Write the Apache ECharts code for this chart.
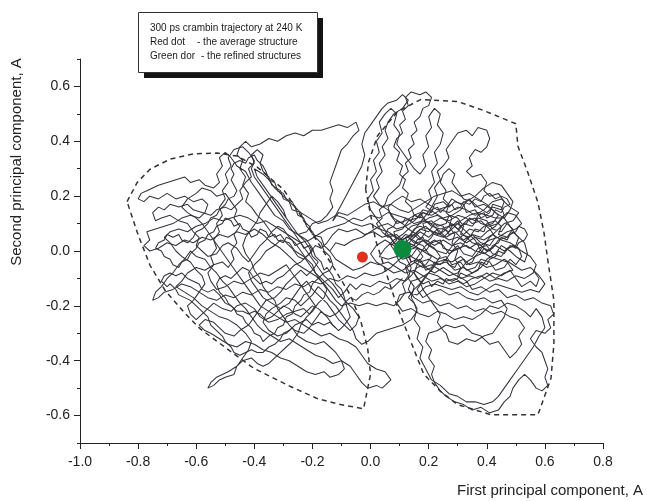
<!DOCTYPE html>
<html><head><meta charset="utf-8">
<script src="https://cdn.jsdelivr.net/npm/echarts@6/dist/echarts.min.js"></script>
<style>html,body{margin:0;padding:0;background:#fff}#c{width:647px;height:501px}</style>
</head><body><div id="c"></div>
<script>
// ---------- axis tick labels ----------
const xTickLabels = ['-1.0','-0.8','-0.6','-0.4','-0.2','0.0','0.2','0.4','0.6','0.8'];
const yTickLabels = ['-0.6','-0.4','-0.2','0.0','0.2','0.4','0.6'];
const xTitle = 'First principal component, A';
const yTitle = 'Second principal component, A';
const legendLines = ['300 ps crambin trajectory at 240 K', 'Red dot', '- the average structure', 'Green dor', '- the refined structures'];

// ---------- trajectory (first PC, second PC) ----------
const segA = [[0.11,0.00],[0.13,0.02],[0.12,0.05],[0.15,0.06],[0.17,0.04],[0.19,0.07],[0.18,0.10],[0.21,0.11],[0.23,0.09],[0.26,0.10],[0.27,0.13],[0.30,0.12],[0.32,0.09],[0.31,0.06],[0.34,0.05],[0.36,0.08],[0.39,0.07],[0.40,0.10],[0.43,0.11],[0.45,0.09],[0.44,0.06],[0.47,0.05],[0.49,0.07],[0.51,0.05],[0.50,0.02],[0.47,0.01],[0.45,-0.02],[0.42,-0.01],[0.40,0.02],[0.37,0.01],[0.35,-0.02],[0.32,-0.01],[0.30,0.02],[0.28,0.00],[0.25,0.01],[0.24,0.04],[0.21,0.03],[0.19,0.00],[0.16,0.01],[0.14,-0.02],[0.11,-0.03],[0.09,-0.01],[0.07,0.02],[0.09,0.04],[0.08,0.07],[0.11,0.08],[0.13,0.11],[0.16,0.12],[0.18,0.15],[0.21,0.14],[0.22,0.17],[0.25,0.18],[0.27,0.16],[0.29,0.18],[0.32,0.17],[0.33,0.14],[0.36,0.15],[0.38,0.12],[0.41,0.14],[0.42,0.17],[0.45,0.16],[0.46,0.13],[0.44,0.10],[0.41,0.09],[0.38,0.10],[0.36,0.12],[0.33,0.11],[0.30,0.08],[0.28,0.10],[0.25,0.07],[0.23,0.06],[0.20,0.08],[0.17,0.09],[0.15,0.08],[0.13,0.05],[0.15,0.03],[0.18,0.02],[0.20,-0.01],[0.23,-0.03],[0.26,-0.02],[0.28,-0.05],[0.31,-0.04],[0.33,-0.07],[0.36,-0.06],[0.38,-0.03],[0.41,-0.04],[0.43,-0.07],[0.46,-0.06],[0.48,-0.03],[0.50,-0.05],[0.52,-0.02],[0.51,0.01]];
const segB = [[0.51,0.01],[0.48,0.03],[0.45,0.04],[0.42,0.06],[0.39,0.04],[0.36,0.05],[0.33,0.03],[0.30,0.05],[0.27,0.04],[0.24,0.06],[0.22,0.09],[0.19,0.11],[0.17,0.14],[0.15,0.13],[0.14,0.16],[0.12,0.18],[0.13,0.21],[0.11,0.23],[0.12,0.26],[0.10,0.28],[0.11,0.31],[0.09,0.33],[0.10,0.36],[0.08,0.38],[0.09,0.41],[0.11,0.43],[0.10,0.46],[0.12,0.48],[0.11,0.51],[0.13,0.53],[0.12,0.56],[0.14,0.58],[0.17,0.57],[0.19,0.58],[0.21,0.56],[0.20,0.53],[0.18,0.52],[0.17,0.49],[0.15,0.47],[0.16,0.44],[0.14,0.42],[0.15,0.39],[0.13,0.37],[0.14,0.34],[0.12,0.32],[0.13,0.29],[0.11,0.27],[0.10,0.24],[0.08,0.22],[0.06,0.20],[0.05,0.17],[0.03,0.15],[0.04,0.12],[0.02,0.10],[0.04,0.07],[0.06,0.05],[0.09,0.06],[0.11,0.04]];
const segC = [[0.11,0.04],[0.14,0.06],[0.16,0.09],[0.19,0.13],[0.21,0.16],[0.23,0.20],[0.22,0.23],[0.24,0.26],[0.23,0.29],[0.25,0.31],[0.27,0.34],[0.26,0.37],[0.28,0.40],[0.30,0.43],[0.33,0.44],[0.35,0.42],[0.37,0.45],[0.40,0.44],[0.41,0.41],[0.40,0.38],[0.38,0.36],[0.36,0.37],[0.34,0.34],[0.35,0.31],[0.33,0.29],[0.35,0.27],[0.38,0.28],[0.40,0.25],[0.39,0.22],[0.41,0.20],[0.44,0.21],[0.46,0.18],[0.45,0.15],[0.42,0.16],[0.40,0.14],[0.37,0.16],[0.35,0.18],[0.32,0.19],[0.30,0.22],[0.28,0.25],[0.29,0.28],[0.27,0.30],[0.25,0.28],[0.24,0.25],[0.26,0.22],[0.25,0.19],[0.27,0.17],[0.26,0.14],[0.28,0.12],[0.27,0.09],[0.29,0.06],[0.28,0.03],[0.30,0.00],[0.29,-0.03]];
const segD = [[0.29,-0.03],[0.31,-0.06],[0.30,-0.09],[0.33,-0.11],[0.35,-0.14],[0.38,-0.13],[0.41,-0.15],[0.44,-0.14],[0.47,-0.17],[0.50,-0.16],[0.53,-0.18],[0.56,-0.17],[0.59,-0.19],[0.62,-0.20],[0.63,-0.23],[0.61,-0.25],[0.62,-0.28],[0.60,-0.30],[0.57,-0.29],[0.55,-0.32],[0.57,-0.35],[0.59,-0.37],[0.60,-0.40],[0.61,-0.43],[0.60,-0.46],[0.61,-0.49],[0.59,-0.51],[0.57,-0.50],[0.55,-0.47],[0.53,-0.45],[0.51,-0.47],[0.49,-0.50],[0.48,-0.53],[0.46,-0.55],[0.44,-0.58],[0.41,-0.59],[0.38,-0.57],[0.35,-0.58],[0.32,-0.56],[0.29,-0.55],[0.26,-0.53],[0.24,-0.51],[0.22,-0.48],[0.21,-0.45],[0.22,-0.42],[0.20,-0.39],[0.21,-0.36],[0.19,-0.33],[0.20,-0.30],[0.23,-0.29],[0.26,-0.27],[0.29,-0.28],[0.32,-0.27],[0.35,-0.30],[0.38,-0.31],[0.41,-0.34],[0.44,-0.33],[0.46,-0.36],[0.48,-0.39],[0.50,-0.37],[0.52,-0.34],[0.51,-0.31],[0.53,-0.28],[0.51,-0.25],[0.48,-0.24],[0.45,-0.22],[0.42,-0.23],[0.39,-0.21],[0.36,-0.22],[0.33,-0.20],[0.30,-0.21],[0.27,-0.19],[0.24,-0.20],[0.21,-0.18],[0.18,-0.19],[0.15,-0.17],[0.13,-0.14],[0.14,-0.11],[0.17,-0.10],[0.20,-0.08],[0.23,-0.09],[0.26,-0.11],[0.29,-0.10],[0.32,-0.12],[0.35,-0.10],[0.38,-0.09],[0.41,-0.11],[0.44,-0.10],[0.47,-0.11],[0.50,-0.09],[0.53,-0.10],[0.56,-0.08],[0.57,-0.05],[0.55,-0.02],[0.52,0.00]];
const segE = [[0.52,0.00],[0.49,0.02],[0.46,0.00],[0.43,0.02],[0.40,0.00],[0.37,0.03],[0.34,0.01],[0.31,0.03],[0.28,0.02],[0.25,0.04],[0.22,0.02],[0.19,0.04],[0.16,0.03],[0.13,0.05],[0.10,0.04],[0.07,0.06],[0.04,0.05],[0.01,0.07],[-0.02,0.06],[-0.05,0.08],[-0.08,0.07],[-0.11,0.08],[-0.13,0.06],[-0.15,0.03],[-0.17,0.01],[-0.19,0.02],[-0.21,-0.01],[-0.23,-0.03],[-0.25,-0.02]];
const segF = [[-0.25,-0.02],[-0.27,0.01],[-0.29,0.03],[-0.31,0.06],[-0.33,0.05],[-0.35,0.08],[-0.37,0.11],[-0.39,0.13],[-0.41,0.16],[-0.43,0.18],[-0.42,0.21],[-0.44,0.24],[-0.43,0.27],[-0.45,0.30],[-0.44,0.33],[-0.46,0.35],[-0.45,0.38],[-0.43,0.40],[-0.41,0.38],[-0.38,0.39],[-0.35,0.41],[-0.32,0.40],[-0.29,0.42],[-0.26,0.43],[-0.23,0.42],[-0.20,0.44],[-0.17,0.44],[-0.14,0.45],[-0.11,0.46],[-0.08,0.45],[-0.05,0.47],[-0.04,0.44],[-0.06,0.42],[-0.08,0.39],[-0.10,0.37],[-0.11,0.34],[-0.12,0.31],[-0.13,0.28],[-0.14,0.25],[-0.13,0.22],[-0.14,0.19],[-0.13,0.16],[-0.15,0.13],[-0.17,0.11],[-0.20,0.10],[-0.22,0.07],[-0.25,0.06],[-0.28,0.08],[-0.30,0.11],[-0.33,0.13],[-0.35,0.16],[-0.37,0.19],[-0.39,0.22],[-0.41,0.25],[-0.43,0.29],[-0.46,0.31],[-0.48,0.34],[-0.50,0.36],[-0.52,0.34],[-0.51,0.31],[-0.53,0.28],[-0.52,0.25],[-0.54,0.23],[-0.57,0.24],[-0.59,0.26],[-0.62,0.25],[-0.64,0.27],[-0.67,0.26],[-0.70,0.25],[-0.73,0.24],[-0.75,0.23],[-0.77,0.22],[-0.79,0.21],[-0.80,0.19],[-0.78,0.18],[-0.76,0.20],[-0.73,0.19],[-0.70,0.21],[-0.67,0.19],[-0.64,0.20],[-0.61,0.18],[-0.58,0.19],[-0.56,0.17],[-0.57,0.14],[-0.59,0.12],[-0.62,0.13],[-0.65,0.12],[-0.68,0.10],[-0.71,0.09],[-0.74,0.08],[-0.77,0.07],[-0.76,0.04],[-0.78,0.02],[-0.76,0.00],[-0.73,0.01],[-0.70,0.03],[-0.67,0.02],[-0.64,0.04],[-0.61,0.03],[-0.58,0.05],[-0.55,0.04],[-0.52,0.06],[-0.49,0.05],[-0.46,0.07],[-0.43,0.06],[-0.40,0.08],[-0.37,0.06],[-0.34,0.03],[-0.31,0.01],[-0.28,-0.02],[-0.25,-0.05],[-0.22,-0.07],[-0.19,-0.09],[-0.16,-0.12],[-0.14,-0.15],[-0.12,-0.18],[-0.10,-0.20],[-0.07,-0.19],[-0.04,-0.20],[-0.01,-0.19],[0.02,-0.20],[0.05,-0.19],[0.08,-0.20],[0.10,-0.18],[0.12,-0.15],[0.11,-0.12],[0.13,-0.09],[0.12,-0.06],[0.14,-0.04],[0.13,-0.01]];
const segG = [[0.13,-0.01],[0.10,-0.03],[0.07,-0.06],[0.04,-0.08],[0.01,-0.09],[-0.02,-0.08],[-0.05,-0.10],[-0.08,-0.09],[-0.11,-0.11],[-0.14,-0.10],[-0.17,-0.12],[-0.20,-0.11],[-0.23,-0.13],[-0.26,-0.12],[-0.29,-0.14],[-0.32,-0.13],[-0.35,-0.15],[-0.38,-0.14],[-0.41,-0.16],[-0.44,-0.15],[-0.47,-0.17],[-0.50,-0.16],[-0.53,-0.18],[-0.56,-0.17],[-0.59,-0.15],[-0.62,-0.13],[-0.65,-0.12],[-0.68,-0.14],[-0.71,-0.15],[-0.73,-0.17],[-0.75,-0.18],[-0.74,-0.15],[-0.72,-0.13],[-0.70,-0.10],[-0.68,-0.08],[-0.66,-0.05],[-0.64,-0.03],[-0.62,0.00],[-0.60,-0.02],[-0.57,-0.03],[-0.55,-0.06],[-0.53,-0.08],[-0.51,-0.11],[-0.49,-0.13],[-0.47,-0.16],[-0.45,-0.19],[-0.43,-0.21],[-0.41,-0.24],[-0.39,-0.27],[-0.37,-0.29],[-0.34,-0.31],[-0.31,-0.33],[-0.28,-0.32],[-0.25,-0.34],[-0.22,-0.36],[-0.19,-0.38],[-0.16,-0.39],[-0.13,-0.41],[-0.10,-0.40],[-0.07,-0.42],[-0.05,-0.45],[-0.03,-0.48],[-0.01,-0.50],[0.02,-0.49],[0.04,-0.50],[0.07,-0.47],[0.05,-0.44],[0.02,-0.43],[-0.01,-0.41],[-0.03,-0.38],[-0.05,-0.35],[-0.08,-0.33],[-0.11,-0.32],[-0.14,-0.30],[-0.17,-0.31],[-0.20,-0.29],[-0.23,-0.27],[-0.26,-0.25],[-0.29,-0.26],[-0.32,-0.24],[-0.35,-0.22],[-0.38,-0.20],[-0.40,-0.17],[-0.42,-0.14],[-0.44,-0.11],[-0.46,-0.08],[-0.48,-0.05],[-0.50,-0.02],[-0.52,0.01],[-0.54,0.04],[-0.56,0.07],[-0.58,0.10],[-0.60,0.12],[-0.63,0.14],[-0.65,0.16]];
const segH = [[-0.65,0.16],[-0.63,0.19],[-0.60,0.21],[-0.58,0.23],[-0.55,0.22],[-0.53,0.20],[-0.50,0.21],[-0.48,0.18],[-0.46,0.15],[-0.47,0.12],[-0.45,0.09],[-0.47,0.06],[-0.46,0.03],[-0.48,0.00],[-0.47,-0.03],[-0.49,-0.06],[-0.51,-0.04],[-0.54,-0.05],[-0.57,-0.07],[-0.60,-0.06],[-0.63,-0.08],[-0.65,-0.11],[-0.67,-0.13],[-0.64,-0.15],[-0.61,-0.17],[-0.58,-0.20],[-0.55,-0.22],[-0.52,-0.24],[-0.49,-0.25],[-0.46,-0.27],[-0.43,-0.30],[-0.41,-0.33],[-0.42,-0.36],[-0.44,-0.39],[-0.46,-0.42],[-0.49,-0.44],[-0.51,-0.45],[-0.53,-0.46],[-0.55,-0.48],[-0.56,-0.50],[-0.54,-0.49],[-0.52,-0.47],[-0.50,-0.46],[-0.47,-0.45],[-0.46,-0.42],[-0.44,-0.40],[-0.41,-0.39],[-0.39,-0.41],[-0.37,-0.42],[-0.35,-0.41],[-0.33,-0.39],[-0.31,-0.37],[-0.29,-0.35],[-0.27,-0.33],[-0.25,-0.30],[-0.24,-0.27],[-0.22,-0.24],[-0.20,-0.22],[-0.18,-0.19],[-0.16,-0.17],[-0.15,-0.14],[-0.17,-0.11],[-0.19,-0.08],[-0.21,-0.05],[-0.23,-0.02],[-0.26,0.00],[-0.28,0.03],[-0.31,0.04],[-0.33,0.02],[-0.36,0.00],[-0.38,-0.03],[-0.40,-0.05],[-0.42,-0.08],[-0.41,-0.11],[-0.39,-0.14],[-0.37,-0.17],[-0.34,-0.19],[-0.31,-0.21],[-0.28,-0.19],[-0.26,-0.16],[-0.24,-0.13],[-0.22,-0.11],[-0.20,-0.14],[-0.18,-0.16],[-0.15,-0.19],[-0.13,-0.22],[-0.11,-0.25],[-0.09,-0.27],[-0.07,-0.29],[-0.05,-0.27],[-0.04,-0.24],[-0.06,-0.21]];
const segI = [[-0.06,-0.21],[-0.09,-0.18],[-0.11,-0.15],[-0.13,-0.12],[-0.16,-0.09],[-0.18,-0.06],[-0.20,-0.03],[-0.22,0.00],[-0.24,0.03],[-0.26,0.06],[-0.28,0.09],[-0.30,0.12],[-0.32,0.15],[-0.34,0.18],[-0.36,0.21],[-0.38,0.24],[-0.40,0.27],[-0.41,0.30],[-0.40,0.33],[-0.42,0.36],[-0.44,0.38],[-0.47,0.37],[-0.49,0.34],[-0.48,0.31],[-0.50,0.28],[-0.49,0.25],[-0.51,0.22],[-0.50,0.19],[-0.52,0.16],[-0.51,0.13],[-0.53,0.10],[-0.52,0.07],[-0.54,0.04],[-0.53,0.01],[-0.55,-0.02],[-0.54,-0.05],[-0.56,-0.08],[-0.55,-0.11],[-0.53,-0.14],[-0.50,-0.13],[-0.47,-0.11],[-0.44,-0.12],[-0.41,-0.10],[-0.38,-0.08],[-0.35,-0.09],[-0.32,-0.07],[-0.29,-0.05],[-0.27,-0.08],[-0.25,-0.11],[-0.23,-0.14],[-0.21,-0.17],[-0.19,-0.20],[-0.21,-0.23],[-0.23,-0.21],[-0.26,-0.22],[-0.29,-0.23],[-0.32,-0.25],[-0.35,-0.26],[-0.38,-0.24],[-0.40,-0.21],[-0.43,-0.19],[-0.46,-0.20],[-0.48,-0.22],[-0.51,-0.21],[-0.54,-0.19],[-0.56,-0.21],[-0.58,-0.23],[-0.60,-0.25],[-0.62,-0.23],[-0.63,-0.20],[-0.61,-0.18]];
const segJ = [[-0.61,-0.18],[-0.59,-0.15],[-0.57,-0.12],[-0.58,-0.09],[-0.60,-0.07],[-0.62,-0.04],[-0.65,-0.02],[-0.67,0.00],[-0.69,0.03],[-0.71,0.05],[-0.69,0.07],[-0.66,0.08],[-0.63,0.07],[-0.60,0.09],[-0.57,0.10],[-0.54,0.12],[-0.51,0.11],[-0.48,0.12],[-0.45,0.13],[-0.42,0.12],[-0.39,0.10],[-0.36,0.11],[-0.33,0.09],[-0.30,0.07],[-0.27,0.05],[-0.24,0.03],[-0.21,0.04],[-0.18,0.06],[-0.15,0.08],[-0.12,0.09],[-0.09,0.10],[-0.06,0.12],[-0.03,0.11],[0.00,0.13],[0.03,0.12],[0.06,0.14],[0.09,0.13],[0.12,0.12],[0.15,0.10],[0.18,0.11],[0.21,0.10],[0.24,0.12],[0.27,0.11],[0.30,0.13],[0.33,0.12],[0.35,0.10],[0.38,0.11],[0.41,0.08],[0.43,0.05],[0.41,0.02],[0.38,0.03],[0.35,0.06],[0.32,0.04],[0.29,0.07],[0.26,0.05],[0.23,0.08],[0.20,0.05],[0.17,0.07],[0.14,0.04],[0.12,0.01],[0.14,-0.02],[0.17,-0.04],[0.20,-0.03],[0.23,-0.05],[0.26,-0.04],[0.29,-0.07],[0.32,-0.06],[0.35,-0.08],[0.38,-0.06],[0.40,-0.03],[0.43,-0.01],[0.45,0.02],[0.48,0.00],[0.50,-0.02],[0.53,-0.04],[0.54,-0.01],[0.53,0.03],[0.50,0.06],[0.48,0.09],[0.46,0.12],[0.43,0.14],[0.40,0.17],[0.37,0.19],[0.34,0.21],[0.31,0.20],[0.28,0.22],[0.25,0.21],[0.22,0.20],[0.19,0.18],[0.16,0.16],[0.13,0.14],[0.10,0.15],[0.07,0.17],[0.04,0.16],[0.01,0.18],[-0.02,0.17],[-0.05,0.15],[-0.08,0.13],[-0.11,0.14],[-0.13,0.11]];
const segK = [[-0.13,0.11],[-0.11,0.15],[-0.09,0.19],[-0.07,0.23],[-0.05,0.27],[-0.03,0.31],[-0.02,0.35],[-0.03,0.39],[-0.02,0.43],[0.00,0.46],[0.02,0.49],[0.04,0.52],[0.06,0.54],[0.09,0.55],[0.11,0.57],[0.13,0.55],[0.11,0.52],[0.08,0.50],[0.06,0.47],[0.05,0.44],[0.06,0.41],[0.04,0.38],[0.05,0.35],[0.03,0.32],[0.04,0.29],[0.02,0.26],[0.03,0.23],[0.01,0.20],[0.03,0.17],[0.06,0.15],[0.08,0.12],[0.11,0.10],[0.13,0.08],[0.16,0.06],[0.19,0.03],[0.22,0.01],[0.24,-0.02],[0.22,-0.05],[0.20,-0.08],[0.18,-0.11],[0.16,-0.14],[0.18,-0.17],[0.21,-0.15],[0.24,-0.14],[0.27,-0.16],[0.30,-0.15],[0.33,-0.17],[0.36,-0.18],[0.39,-0.17],[0.42,-0.19],[0.45,-0.18],[0.47,-0.21],[0.46,-0.24],[0.44,-0.27],[0.42,-0.30],[0.39,-0.31],[0.36,-0.33],[0.33,-0.32],[0.30,-0.34],[0.27,-0.33],[0.26,-0.30],[0.25,-0.29],[0.23,-0.26],[0.24,-0.23],[0.22,-0.20],[0.20,-0.17],[0.18,-0.14],[0.17,-0.11],[0.15,-0.08],[0.16,-0.05],[0.18,-0.02],[0.16,0.01],[0.13,0.02],[0.11,0.00]];
const segL = [[0.11,0.00],[0.09,0.03],[0.12,0.06],[0.15,0.05],[0.17,0.08],[0.20,0.07],[0.22,0.10],[0.25,0.09],[0.27,0.06],[0.30,0.07],[0.32,0.10],[0.35,0.09],[0.37,0.12],[0.40,0.11],[0.42,0.08],[0.45,0.07],[0.47,0.10],[0.49,0.08],[0.47,0.05],[0.44,0.04],[0.42,0.01],[0.39,-0.01],[0.36,0.00],[0.33,0.02],[0.30,0.01],[0.27,-0.01],[0.25,0.02],[0.22,0.04],[0.19,0.02],[0.17,-0.01],[0.15,-0.04],[0.18,-0.06],[0.21,-0.05],[0.24,-0.07],[0.27,-0.09],[0.30,-0.08],[0.33,-0.04],[0.36,-0.02],[0.39,0.02],[0.41,0.05],[0.44,0.08],[0.46,0.10],[0.49,0.11],[0.51,0.14],[0.48,0.16],[0.45,0.19],[0.42,0.18],[0.39,0.15],[0.36,0.13],[0.33,0.15],[0.30,0.16],[0.27,0.14],[0.24,0.15],[0.21,0.13],[0.18,0.14],[0.15,0.11],[0.12,0.09],[0.09,0.08],[0.06,0.10],[0.03,0.09],[0.00,0.07],[-0.03,0.05],[-0.06,0.04],[-0.09,0.02],[-0.12,0.03],[-0.14,0.00],[-0.12,-0.03],[-0.09,-0.05],[-0.06,-0.07],[-0.03,-0.06],[0.00,-0.04],[0.03,-0.05],[0.06,-0.04],[0.09,-0.06],[0.12,-0.08],[0.15,-0.07],[0.18,-0.09],[0.21,-0.11],[0.24,-0.10],[0.27,-0.12],[0.30,-0.11],[0.33,-0.13],[0.36,-0.12],[0.39,-0.10],[0.42,-0.08],[0.45,-0.09],[0.48,-0.07],[0.50,-0.10],[0.52,-0.13],[0.55,-0.11],[0.57,-0.13],[0.58,-0.10],[0.56,-0.07]];
const segM = [[-0.14,0.00],[-0.16,0.02],[-0.17,0.05],[-0.20,0.06],[-0.21,0.09],[-0.23,0.11],[-0.24,0.14],[-0.27,0.15],[-0.28,0.18],[-0.30,0.19],[-0.31,0.22],[-0.34,0.24],[-0.35,0.27],[-0.37,0.29],[-0.38,0.32],[-0.37,0.35],[-0.39,0.37],[-0.41,0.35],[-0.40,0.32],[-0.42,0.30],[-0.41,0.27],[-0.43,0.25],[-0.45,0.22],[-0.44,0.19],[-0.46,0.17],[-0.48,0.15],[-0.50,0.16],[-0.53,0.15],[-0.55,0.13],[-0.58,0.14],[-0.61,0.15],[-0.63,0.17],[-0.66,0.16],[-0.69,0.17],[-0.71,0.15],[-0.73,0.16],[-0.75,0.14],[-0.74,0.11],[-0.72,0.12],[-0.69,0.13],[-0.66,0.11],[-0.63,0.10],[-0.61,0.07],[-0.59,0.05],[-0.60,0.02],[-0.58,0.00],[-0.56,-0.02],[-0.53,-0.01],[-0.51,0.02],[-0.49,0.03],[-0.46,0.01],[-0.44,-0.02],[-0.42,-0.04],[-0.40,-0.01],[-0.38,0.02],[-0.36,0.04],[-0.34,0.07],[-0.32,0.09],[-0.30,0.08],[-0.28,0.05],[-0.26,0.03],[-0.24,0.00],[-0.22,-0.03],[-0.20,-0.05],[-0.19,-0.08],[-0.17,-0.10],[-0.15,-0.12],[-0.13,-0.14],[-0.11,-0.17],[-0.09,-0.15],[-0.07,-0.12],[-0.05,-0.14],[-0.03,-0.12],[0.00,-0.13],[0.03,-0.11],[0.06,-0.12],[0.09,-0.10],[0.12,-0.11],[0.14,-0.09],[0.16,-0.06],[0.19,-0.05],[0.21,-0.02]];
const segN = [[0.21,-0.02],[0.18,0.00],[0.15,0.02],[0.12,0.03],[0.09,0.05],[0.06,0.07],[0.03,0.08],[0.00,0.10],[-0.03,0.09],[-0.06,0.10],[-0.09,0.12],[-0.12,0.13],[-0.15,0.11],[-0.18,0.10],[-0.21,0.12],[-0.24,0.14],[-0.27,0.17],[-0.30,0.20],[-0.33,0.23],[-0.35,0.26],[-0.37,0.28],[-0.40,0.30],[-0.39,0.27],[-0.37,0.24],[-0.35,0.21],[-0.33,0.18],[-0.31,0.15],[-0.29,0.12],[-0.27,0.09],[-0.25,0.06],[-0.22,0.04],[-0.20,0.01],[-0.19,-0.02],[-0.17,-0.04],[-0.16,-0.07],[-0.15,-0.06],[-0.13,-0.09],[-0.12,-0.12],[-0.10,-0.14],[-0.09,-0.17],[-0.08,-0.21],[-0.07,-0.24],[-0.09,-0.27],[-0.11,-0.29],[-0.13,-0.27],[-0.15,-0.24],[-0.17,-0.22],[-0.19,-0.25],[-0.21,-0.28],[-0.23,-0.30],[-0.26,-0.29],[-0.28,-0.27],[-0.30,-0.24],[-0.32,-0.21],[-0.33,-0.18],[-0.35,-0.16],[-0.37,-0.13],[-0.38,-0.10],[-0.40,-0.07],[-0.41,-0.04],[-0.43,-0.01],[-0.44,0.02],[-0.43,0.05],[-0.41,0.08],[-0.39,0.11],[-0.38,0.14],[-0.36,0.17],[-0.34,0.20],[-0.32,0.18],[-0.30,0.15],[-0.29,0.12],[-0.27,0.09],[-0.25,0.06],[-0.23,0.04],[-0.21,0.01],[-0.20,-0.02],[-0.18,-0.04]];
const segR = [[-0.18,-0.04],[-0.20,-0.07],[-0.22,-0.09],[-0.24,-0.07],[-0.27,-0.10],[-0.29,-0.12],[-0.31,-0.15],[-0.33,-0.17],[-0.36,-0.18],[-0.38,-0.21],[-0.40,-0.24],[-0.42,-0.27],[-0.45,-0.29],[-0.47,-0.31],[-0.50,-0.30],[-0.52,-0.28],[-0.54,-0.26],[-0.57,-0.25],[-0.59,-0.27],[-0.57,-0.29],[-0.55,-0.30],[-0.52,-0.32],[-0.49,-0.34],[-0.46,-0.35],[-0.43,-0.33],[-0.40,-0.34],[-0.37,-0.36],[-0.34,-0.37],[-0.31,-0.39],[-0.28,-0.40],[-0.25,-0.42],[-0.22,-0.44],[-0.19,-0.45],[-0.16,-0.44],[-0.14,-0.46],[-0.11,-0.45],[-0.09,-0.43],[-0.10,-0.40],[-0.12,-0.37],[-0.14,-0.35],[-0.16,-0.33],[-0.19,-0.34],[-0.22,-0.33],[-0.25,-0.31],[-0.27,-0.28],[-0.29,-0.30],[-0.32,-0.31],[-0.35,-0.29],[-0.37,-0.26],[-0.36,-0.23],[-0.34,-0.21],[-0.31,-0.19],[-0.29,-0.17],[-0.26,-0.18],[-0.24,-0.20],[-0.22,-0.18],[-0.20,-0.16],[-0.18,-0.13],[-0.16,-0.15],[-0.14,-0.18],[-0.12,-0.20],[-0.10,-0.23],[-0.08,-0.26],[-0.06,-0.29],[-0.05,-0.32],[-0.03,-0.34],[-0.01,-0.33],[0.02,-0.30],[0.05,-0.29],[0.08,-0.28],[0.11,-0.27],[0.14,-0.25],[0.16,-0.22],[0.15,-0.19],[0.13,-0.17]];
const segO = [[0.13,-0.17],[0.15,-0.14],[0.17,-0.12],[0.19,-0.09],[0.21,-0.07],[0.23,-0.04],[0.26,-0.03],[0.28,0.00],[0.31,0.01],[0.33,0.04],[0.35,0.06],[0.38,0.05],[0.40,0.07],[0.43,0.09],[0.45,0.12],[0.47,0.14],[0.50,0.13],[0.52,0.10],[0.50,0.08],[0.47,0.07],[0.44,0.05],[0.41,0.04],[0.38,0.02],[0.35,0.03],[0.32,0.06],[0.29,0.09],[0.26,0.11],[0.23,0.13],[0.20,0.12],[0.17,0.10],[0.14,0.09],[0.11,0.06],[0.08,0.04],[0.05,0.01],[0.03,-0.02],[0.06,-0.03],[0.09,-0.02],[0.12,0.00],[0.15,0.01],[0.18,0.04],[0.20,0.02],[0.23,0.00],[0.26,-0.01],[0.29,0.03],[0.31,0.05],[0.34,0.08],[0.37,0.07],[0.39,0.09],[0.42,0.10],[0.44,0.13],[0.42,0.15],[0.39,0.17],[0.36,0.16],[0.34,0.19],[0.31,0.17],[0.28,0.19],[0.26,0.16],[0.23,0.15],[0.20,0.17],[0.17,0.19],[0.14,0.18],[0.11,0.20],[0.08,0.18],[0.06,0.16],[0.07,0.13],[0.09,0.10],[0.12,0.11],[0.15,0.13],[0.18,0.12],[0.21,0.09],[0.24,0.08],[0.27,0.09],[0.30,0.10],[0.33,0.07],[0.36,0.04],[0.38,0.00],[0.41,-0.02],[0.44,-0.03],[0.47,-0.04],[0.49,-0.07],[0.46,-0.08],[0.43,-0.10],[0.40,-0.08],[0.37,-0.10],[0.34,-0.09],[0.31,-0.10],[0.28,-0.08],[0.25,-0.06],[0.22,-0.08],[0.19,-0.06],[0.17,-0.03],[0.14,-0.05],[0.11,-0.07],[0.08,-0.08],[0.05,-0.06],[0.02,-0.04],[0.00,-0.01],[0.02,0.02],[0.05,0.04],[0.08,0.02],[0.10,0.00]];
const segP = [[0.10,0.00],[0.08,0.03],[0.06,0.06],[0.04,0.09],[0.02,0.12],[0.00,0.15],[-0.01,0.19],[0.01,0.22],[0.00,0.26],[0.02,0.29],[0.01,0.33],[0.03,0.36],[0.02,0.40],[0.04,0.43],[0.03,0.47],[0.05,0.50],[0.07,0.52],[0.09,0.50],[0.08,0.46],[0.10,0.43],[0.09,0.39],[0.11,0.36],[0.13,0.33],[0.15,0.30],[0.17,0.28],[0.19,0.31],[0.18,0.35],[0.20,0.38],[0.19,0.42],[0.21,0.45],[0.20,0.49],[0.22,0.52],[0.24,0.50],[0.23,0.46],[0.25,0.43],[0.24,0.39],[0.22,0.36],[0.23,0.32],[0.21,0.29],[0.22,0.25],[0.20,0.22],[0.21,0.19],[0.19,0.16],[0.22,0.14],[0.25,0.12],[0.28,0.13],[0.31,0.15],[0.33,0.18],[0.36,0.20],[0.39,0.23],[0.42,0.25],[0.45,0.24],[0.47,0.21],[0.49,0.18],[0.48,0.15],[0.46,0.12],[0.43,0.12],[0.40,0.13],[0.37,0.14],[0.34,0.13],[0.31,0.11],[0.28,0.08],[0.25,0.05],[0.22,0.06],[0.19,0.09],[0.16,0.07],[0.13,0.04],[0.11,0.02]];
const segQ = [[0.11,0.02],[0.12,-0.02],[0.14,-0.06],[0.13,-0.10],[0.15,-0.13],[0.14,-0.17],[0.16,-0.21],[0.15,-0.25],[0.17,-0.28],[0.16,-0.32],[0.18,-0.35],[0.17,-0.39],[0.19,-0.43],[0.21,-0.47],[0.24,-0.49],[0.27,-0.52],[0.30,-0.53],[0.33,-0.55],[0.36,-0.55],[0.39,-0.56],[0.42,-0.55],[0.44,-0.53],[0.46,-0.50],[0.48,-0.47],[0.50,-0.44],[0.52,-0.41],[0.54,-0.38],[0.56,-0.35],[0.58,-0.31],[0.60,-0.28],[0.59,-0.24],[0.57,-0.21],[0.55,-0.24],[0.53,-0.22],[0.50,-0.20],[0.47,-0.19],[0.44,-0.21],[0.41,-0.20],[0.38,-0.23],[0.35,-0.25],[0.32,-0.24],[0.29,-0.25],[0.26,-0.23],[0.23,-0.22],[0.20,-0.24],[0.17,-0.23],[0.14,-0.21],[0.11,-0.22],[0.09,-0.19],[0.10,-0.16],[0.13,-0.15],[0.16,-0.16],[0.19,-0.13],[0.22,-0.12],[0.25,-0.13],[0.28,-0.14],[0.31,-0.13],[0.34,-0.15],[0.37,-0.16],[0.40,-0.14],[0.43,-0.12],[0.46,-0.13],[0.49,-0.14],[0.52,-0.15],[0.55,-0.14],[0.58,-0.15],[0.60,-0.12],[0.58,-0.09],[0.55,-0.06],[0.52,-0.07],[0.49,-0.05],[0.46,-0.03],[0.43,-0.05],[0.40,-0.06],[0.37,-0.04],[0.34,-0.05],[0.31,-0.02],[0.28,-0.04],[0.25,-0.03]];
const segS = [[0.10,0.00],[0.12,0.01],[0.13,0.03],[0.15,0.02],[0.16,0.04],[0.18,0.05],[0.19,0.03],[0.21,0.05],[0.22,0.07],[0.24,0.06],[0.25,0.08],[0.27,0.07],[0.28,0.09],[0.30,0.11],[0.31,0.09],[0.33,0.10],[0.34,0.12],[0.36,0.11],[0.37,0.13],[0.39,0.14],[0.40,0.12],[0.42,0.13],[0.43,0.15],[0.45,0.14],[0.46,0.16],[0.48,0.17],[0.47,0.19],[0.45,0.20],[0.43,0.19],[0.41,0.21],[0.39,0.20],[0.38,0.18],[0.36,0.19],[0.34,0.17],[0.32,0.18],[0.31,0.16],[0.29,0.15],[0.28,0.17],[0.26,0.16],[0.24,0.14],[0.23,0.16],[0.21,0.15],[0.20,0.13],[0.18,0.14],[0.17,0.12],[0.15,0.13],[0.14,0.11],[0.12,0.12],[0.11,0.10],[0.09,0.11],[0.08,0.09],[0.06,0.08],[0.05,0.06],[0.07,0.05],[0.08,0.03],[0.10,0.02],[0.11,-0.01],[0.13,-0.02],[0.14,-0.04],[0.16,-0.03],[0.18,-0.05],[0.19,-0.07],[0.21,-0.06],[0.22,-0.04],[0.24,-0.05],[0.26,-0.03],[0.27,-0.05],[0.29,-0.06],[0.30,-0.04],[0.32,-0.03],[0.33,-0.05],[0.35,-0.04],[0.36,-0.02],[0.38,-0.01],[0.39,0.01],[0.41,0.00],[0.42,0.02],[0.44,0.03],[0.45,0.05],[0.47,0.04],[0.48,0.06],[0.50,0.07],[0.51,0.09],[0.53,0.08],[0.54,0.06],[0.53,0.04],[0.51,0.03],[0.50,0.01],[0.48,0.02],[0.46,-0.01],[0.44,0.00],[0.43,-0.02],[0.41,-0.03],[0.40,-0.05],[0.38,-0.04],[0.37,-0.07],[0.35,-0.08],[0.33,-0.09],[0.31,-0.08],[0.30,-0.10],[0.28,-0.11],[0.26,-0.10],[0.25,-0.12],[0.23,-0.11],[0.21,-0.13],[0.20,-0.11],[0.18,-0.12],[0.16,-0.10],[0.15,-0.08],[0.13,-0.07],[0.12,-0.05],[0.10,-0.04],[0.09,-0.02],[0.10,0.00]];
const segT = [[-0.20,0.00],[-0.21,0.02],[-0.23,0.01],[-0.24,0.03],[-0.26,0.02],[-0.27,0.04],[-0.29,0.05],[-0.30,0.03],[-0.32,0.04],[-0.33,0.06],[-0.35,0.05],[-0.36,0.07],[-0.38,0.08],[-0.39,0.06],[-0.41,0.05],[-0.42,0.07],[-0.44,0.08],[-0.45,0.10],[-0.47,0.09],[-0.48,0.11],[-0.50,0.12],[-0.51,0.10],[-0.53,0.09],[-0.54,0.07],[-0.56,0.06],[-0.57,0.04],[-0.59,0.03],[-0.60,0.01],[-0.62,-0.01],[-0.63,-0.03],[-0.65,-0.04],[-0.66,-0.06],[-0.68,-0.05],[-0.69,-0.03],[-0.71,-0.02],[-0.72,0.00],[-0.74,0.01],[-0.73,0.03],[-0.71,0.04],[-0.70,0.06],[-0.68,0.05],[-0.66,0.06],[-0.65,0.04],[-0.63,0.03],[-0.61,0.05],[-0.60,0.07],[-0.58,0.08],[-0.56,0.10],[-0.55,0.12],[-0.53,0.13],[-0.52,0.15],[-0.50,0.17],[-0.49,0.19],[-0.47,0.20],[-0.46,0.22],[-0.47,0.24],[-0.48,0.26],[-0.47,0.28],[-0.48,0.30],[-0.47,0.32],[-0.45,0.33],[-0.43,0.32],[-0.42,0.34],[-0.40,0.35],[-0.39,0.33],[-0.37,0.31],[-0.36,0.29],[-0.35,0.26],[-0.33,0.25],[-0.32,0.22],[-0.30,0.21],[-0.29,0.19],[-0.27,0.18],[-0.26,0.16],[-0.25,0.13],[-0.23,0.12],[-0.22,0.09],[-0.20,0.07],[-0.19,0.05],[-0.17,0.03],[-0.16,0.00],[-0.14,-0.02],[-0.13,-0.05],[-0.14,-0.07],[-0.16,-0.08],[-0.18,-0.10],[-0.20,-0.12],[-0.21,-0.15],[-0.23,-0.16],[-0.24,-0.18],[-0.26,-0.20],[-0.27,-0.23],[-0.29,-0.24],[-0.30,-0.27],[-0.32,-0.28],[-0.33,-0.30],[-0.35,-0.31],[-0.37,-0.33],[-0.38,-0.31],[-0.40,-0.30],[-0.41,-0.28],[-0.43,-0.26],[-0.44,-0.24],[-0.46,-0.23],[-0.47,-0.21],[-0.49,-0.19],[-0.50,-0.17],[-0.52,-0.15],[-0.53,-0.12],[-0.52,-0.10],[-0.50,-0.09],[-0.48,-0.10],[-0.46,-0.08],[-0.44,-0.06],[-0.42,-0.07],[-0.40,-0.10],[-0.38,-0.12],[-0.36,-0.11],[-0.34,-0.12],[-0.32,-0.10],[-0.30,-0.09],[-0.28,-0.07],[-0.26,-0.05],[-0.24,-0.04],[-0.22,-0.02],[-0.20,0.00]];
const segU = [[-0.12,-0.28],[-0.14,-0.26],[-0.16,-0.27],[-0.18,-0.26],[-0.20,-0.27],[-0.22,-0.25],[-0.24,-0.26],[-0.26,-0.27],[-0.28,-0.29],[-0.30,-0.30],[-0.31,-0.32],[-0.33,-0.34],[-0.35,-0.35],[-0.37,-0.37],[-0.39,-0.37],[-0.41,-0.36],[-0.43,-0.37],[-0.45,-0.38],[-0.47,-0.37],[-0.48,-0.35],[-0.50,-0.33],[-0.51,-0.31],[-0.53,-0.29],[-0.55,-0.27],[-0.56,-0.24],[-0.58,-0.22],[-0.60,-0.20],[-0.62,-0.18],[-0.64,-0.17],[-0.66,-0.16],[-0.67,-0.14],[-0.69,-0.12],[-0.70,-0.13],[-0.72,-0.11],[-0.71,-0.09],[-0.69,-0.08],[-0.67,-0.09],[-0.65,-0.08],[-0.63,-0.10],[-0.61,-0.11],[-0.59,-0.12],[-0.58,-0.14],[-0.56,-0.15],[-0.54,-0.14],[-0.52,-0.16],[-0.50,-0.19],[-0.48,-0.20],[-0.46,-0.22],[-0.44,-0.22],[-0.42,-0.23],[-0.40,-0.22],[-0.38,-0.23],[-0.36,-0.25],[-0.34,-0.24],[-0.32,-0.22],[-0.30,-0.20],[-0.28,-0.21],[-0.26,-0.23],[-0.24,-0.24],[-0.22,-0.22],[-0.20,-0.20],[-0.18,-0.21],[-0.16,-0.23],[-0.14,-0.24],[-0.12,-0.23],[-0.10,-0.21],[-0.09,-0.19],[-0.07,-0.17],[-0.05,-0.18],[-0.03,-0.16],[-0.01,-0.15],[0.01,-0.16],[0.03,-0.15],[0.05,-0.13],[0.07,-0.14],[0.09,-0.12],[0.11,-0.10]];
const trajectorySegments = [segA, segB, segC, segD, segE, segF, segG, segH, segI, segJ, segK, segL, segM, segN, segR, segO, segP, segQ, segS, segT, segU];

// ---------- dashed region outlines ----------
const leftRegion = [[-0.838,0.180],[-0.803,0.250],[-0.759,0.298],[-0.690,0.335],[-0.610,0.354],[-0.528,0.357],[-0.459,0.346],[-0.390,0.306],[-0.300,0.225],[-0.231,0.114],[-0.172,0.015],[-0.121,-0.070],[-0.069,-0.162],[-0.034,-0.254],[-0.010,-0.354],[0.000,-0.449],[-0.024,-0.575],[-0.103,-0.560],[-0.183,-0.538],[-0.276,-0.494],[-0.403,-0.427],[-0.483,-0.365],[-0.586,-0.284],[-0.638,-0.228],[-0.707,-0.144],[-0.759,-0.052],[-0.800,0.059],[-0.838,0.180]];
const rightRegion = [[-0.017,0.225],[-0.007,0.324],[0.024,0.420],[0.093,0.508],[0.172,0.552],[0.300,0.545],[0.390,0.512],[0.500,0.464],[0.507,0.383],[0.541,0.287],[0.576,0.177],[0.597,0.066],[0.610,-0.033],[0.631,-0.180],[0.631,-0.339],[0.621,-0.464],[0.576,-0.597],[0.507,-0.597],[0.414,-0.597],[0.300,-0.560],[0.241,-0.512],[0.183,-0.449],[0.128,-0.302],[0.093,-0.206],[0.062,-0.107],[0.017,0.041],[-0.017,0.225]];

// ---------- special structures ----------
const averageStructure = [[-0.028,-0.022]];
const refinedStructure = [[0.110,0.007]];

const FONT = '"Liberation Sans", Arial, Helvetica, sans-serif';
const INK = '#222';

const series = [];
trajectorySegments.forEach(seg => series.push({
  type: 'line', data: seg, showSymbol: false, symbol: 'none', silent: true,
  lineStyle: { color: '#33333c', width: 1.05 }, z: 2, xAxisIndex: 0, yAxisIndex: 0
}));
[leftRegion, rightRegion].forEach(r => series.push({
  type: 'line', data: r, showSymbol: false, symbol: 'none', silent: true,
  lineStyle: { color: '#333', width: 1.5, type: [5, 4] }, z: 3, xAxisIndex: 0, yAxisIndex: 0
}));
series.push({ type: 'scatter', data: averageStructure, symbol: 'circle', symbolSize: 11, itemStyle: { color: '#e0301e', opacity: 1 }, z: 5, silent: true, xAxisIndex: 0, yAxisIndex: 0 });
series.push({ type: 'scatter', data: refinedStructure, symbol: 'circle', symbolSize: 18, itemStyle: { color: '#0b8a3e', opacity: 1 }, z: 5, silent: true, xAxisIndex: 0, yAxisIndex: 0 });

const chart = echarts.init(document.getElementById('c'));
chart.setOption({
  animation: false,
  backgroundColor: '#fff',
  grid: [
    { left: 80, right: 44, top: 59, bottom: 58 },
    { left: 80, right: 44, top: 86.43, bottom: 85.43 }
  ],
  xAxis: [
    { gridIndex: 0, type: 'value', min: -1.0, max: 0.8, interval: 0.2,
      axisLine: { show: true, onZero: false, lineStyle: { color: INK, width: 1 } },
      axisTick: { show: true, inside: false, length: 6, lineStyle: { color: INK } },
      minorTick: { show: true, splitNumber: 2, length: 3, lineStyle: { color: INK } },
      splitLine: { show: false },
      axisLabel: { margin: 12, fontSize: 14, fontFamily: FONT, color: INK,
        formatter: v => xTickLabels[Math.round((v + 1.0) / 0.2)] } },
    { gridIndex: 1, type: 'value', min: -1.0, max: 0.8, show: false }
  ],
  yAxis: [
    { gridIndex: 0, type: 'value', min: -0.7, max: 0.7, interval: 0.1,
      axisLine: { show: true, onZero: false, lineStyle: { color: INK, width: 1 } },
      axisTick: { show: true, inside: false, length: 3, lineStyle: { color: INK } },
      splitLine: { show: false }, axisLabel: { show: false } },
    { gridIndex: 1, type: 'value', min: -0.6, max: 0.6, interval: 0.2,
      axisLine: { show: false, onZero: false },
      axisTick: { show: true, inside: false, length: 6, lineStyle: { color: INK } },
      splitLine: { show: false },
      axisLabel: { margin: 10, fontSize: 14, fontFamily: FONT, color: INK,
        formatter: v => yTickLabels[Math.round((v + 0.6) / 0.2)] } }
  ],
  series: series,
  graphic: { elements: [
    { type: 'rect', shape: { x: 144, y: 18, width: 179, height: 60 }, style: { fill: '#141414' }, z: 10 },
    { type: 'rect', shape: { x: 138.5, y: 12.5, width: 179, height: 60 }, style: { fill: '#fff', stroke: '#333', lineWidth: 1 }, z: 11 },
    { type: 'text', x: 150, y: 28, z: 12, style: { text: legendLines[0], font: '10px ' + FONT, fill: '#1a1a1a', textVerticalAlign: 'middle', verticalAlign: 'middle' } },
    { type: 'text', x: 150, y: 42, z: 12, style: { text: legendLines[1], font: '10px ' + FONT, fill: '#1a1a1a', textVerticalAlign: 'middle', verticalAlign: 'middle' } },
    { type: 'text', x: 197, y: 42, z: 12, style: { text: legendLines[2], font: '10px ' + FONT, fill: '#1a1a1a', textVerticalAlign: 'middle', verticalAlign: 'middle' } },
    { type: 'text', x: 150, y: 56, z: 12, style: { text: legendLines[3], font: '10px ' + FONT, fill: '#1a1a1a', textVerticalAlign: 'middle', verticalAlign: 'middle' } },
    { type: 'text', x: 201, y: 56, z: 12, style: { text: legendLines[4], font: '10px ' + FONT, fill: '#1a1a1a', textVerticalAlign: 'middle', verticalAlign: 'middle' } },
    { type: 'text', x: 17, y: 162, rotation: Math.PI / 2, z: 12, style: { text: yTitle, font: '15px ' + FONT, fill: INK, textAlign: 'center', align: 'center', textVerticalAlign: 'middle', verticalAlign: 'middle' } },
    { type: 'text', x: 643, y: 491, z: 12, style: { text: xTitle, font: '15px ' + FONT, fill: INK, textAlign: 'right', align: 'right', textVerticalAlign: 'middle', verticalAlign: 'middle' } }
  ] }
});
</script>
</body></html>
